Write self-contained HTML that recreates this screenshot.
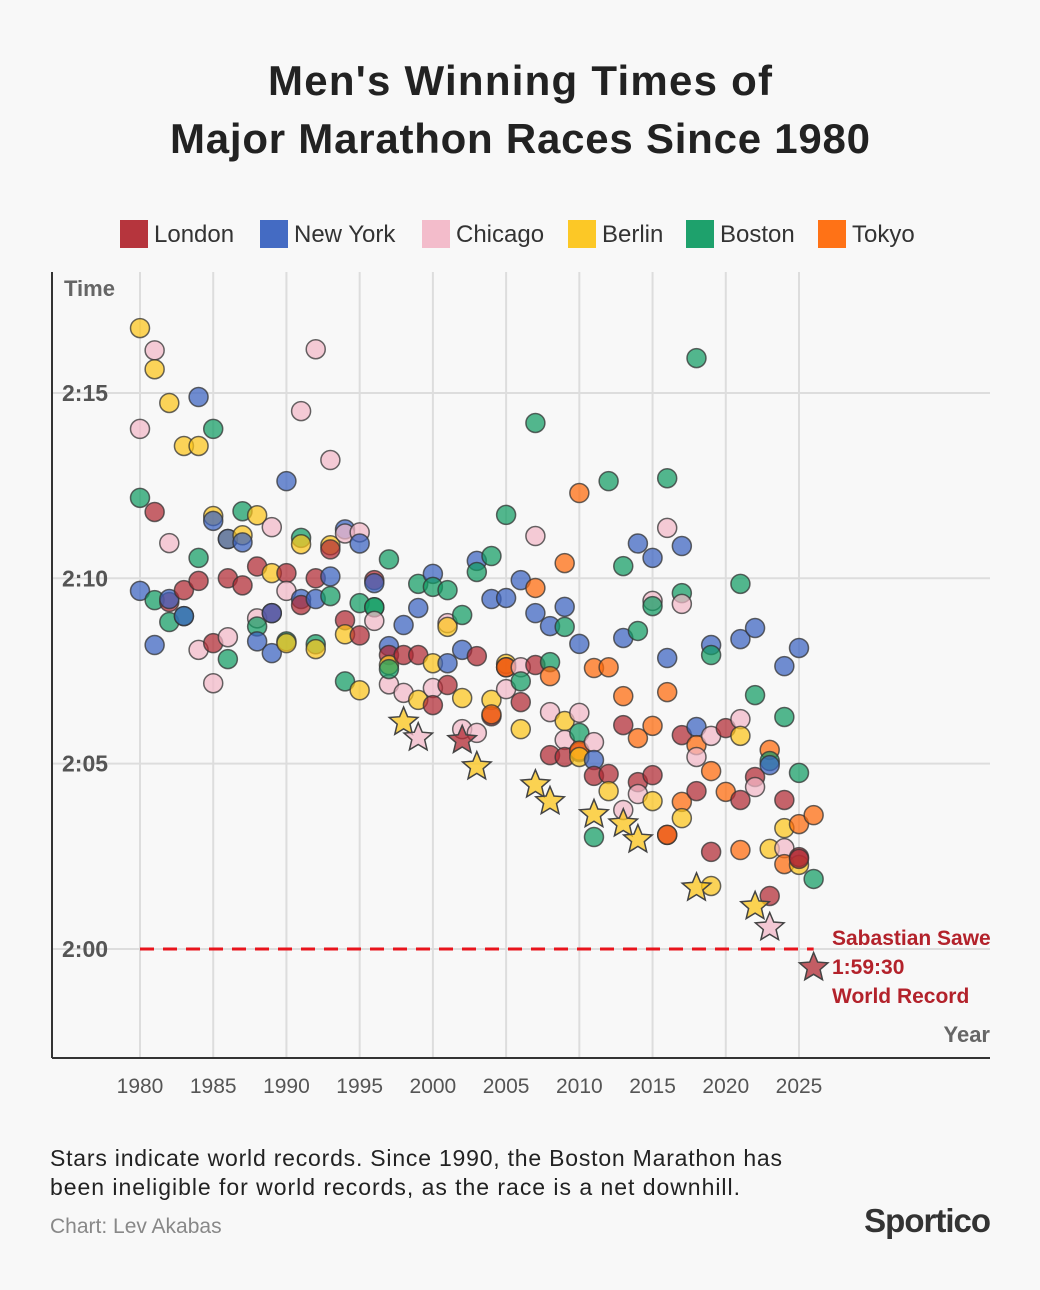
<!DOCTYPE html>
<html><head><meta charset="utf-8"><style>
body{margin:0;background:#f8f8f8;width:1040px;height:1290px;overflow:hidden;font-family:"Liberation Sans",sans-serif}
</style></head><body>
<svg width="1040" height="1290" style="position:absolute;left:0;top:0">
<text x="520" y="95" text-anchor="middle" font-size="42" font-weight="bold" fill="#222" textLength="504">Men's Winning Times of</text>
<text x="520" y="153" text-anchor="middle" font-size="42" font-weight="bold" fill="#222" textLength="700">Major Marathon Races Since 1980</text>
<g id="legend"></g>
<g id="grid"></g>
<line x1="52" y1="272" x2="52" y2="1058" stroke="#333" stroke-width="2"/>
<line x1="52" y1="1058" x2="990" y2="1058" stroke="#333" stroke-width="2"/>
<text x="64" y="296" font-size="22" font-weight="bold" fill="#666">Time</text>
<text x="990" y="1042" text-anchor="end" font-size="22" font-weight="bold" fill="#666">Year</text>
<line id="wr" y1="949" y2="949" stroke="#e8141c" stroke-width="3" stroke-dasharray="14,9"/>
<g id="marks"></g>
<g font-size="21" font-weight="bold" fill="#b3222b">
<text x="832" y="945">Sabastian Sawe</text><text x="832" y="974">1:59:30</text><text x="832" y="1003">World Record</text></g>
<text x="50" y="1166" font-size="23" fill="#222" textLength="732">Stars indicate world records. Since 1990, the Boston Marathon has</text>
<text x="50" y="1195" font-size="23" fill="#222" textLength="690">been ineligible for world records, as the race is a net downhill.</text>
<text x="50" y="1233" font-size="21" fill="#888">Chart: Lev Akabas</text>
<text x="990" y="1232" text-anchor="end" font-size="33" font-weight="bold" fill="#333" letter-spacing="-1">Sportico</text>
</svg>
<script>
const races=["London","New York","Chicago","Berlin","Boston","Tokyo"];
const colors=["#b22a33","#3a63c0","#f2b8c8","#fcc51a","#129c64","#ff6a0a"];
const yTicks=[0,5,10,15];
const yTickLabels=["2:00","2:05","2:10","2:15"];
const xTicks=[1980,1985,1990,1995,2000,2005,2010,2015,2020,2025];
// points: [year, minutes over 2h, race index]
const pts=[
[1980,16.75,3],[1980,14.03,2],[1980,12.17,4],[1980,9.66,1],
[1981,16.15,2],[1981,15.64,3],[1981,11.79,0],[1981,8.2,1],[1981,9.41,4],
[1982,14.73,3],[1982,10.95,2],[1982,9.36,0],[1982,9.44,1],[1982,8.82,4],
[1983,13.57,3],[1983,9.68,0],[1983,8.98,4],[1983,8.98,1],
[1984,14.89,1],[1984,13.57,3],[1984,10.55,4],[1984,9.93,0],[1984,8.07,2],
[1985,14.03,4],[1985,11.68,3],[1985,11.55,1],[1985,8.25,0],[1985,7.17,2],
[1986,11.06,3],[1986,11.06,1],[1986,10.0,0],[1986,8.41,2],[1986,7.82,4],
[1987,11.81,4],[1987,11.16,3],[1987,10.97,1],[1987,9.81,0],
[1988,11.7,3],[1988,10.32,0],[1988,8.92,2],[1988,8.7,4],[1988,8.3,1],
[1989,11.38,2],[1989,10.14,3],[1989,9.06,0],[1989,9.06,1],[1989,7.98,1],
[1990,12.62,1],[1990,10.14,0],[1990,9.66,2],[1990,8.3,4],[1990,8.25,3],
[1991,14.51,2],[1991,11.09,4],[1991,10.92,3],[1991,9.44,1],[1991,9.28,0],
[1992,16.18,2],[1992,10.0,0],[1992,9.44,1],[1992,8.22,4],[1992,8.09,3],
[1993,13.19,2],[1993,10.89,3],[1993,10.78,0],[1993,10.05,1],[1993,9.52,4],
[1994,11.32,1],[1994,11.21,2],[1994,8.87,0],[1994,8.49,3],[1994,7.22,4],
[1995,11.24,2],[1995,10.94,1],[1995,9.33,4],[1995,8.46,0],[1995,6.98,3],
[1996,9.95,0],[1996,9.87,1],[1996,9.22,4],[1996,9.22,4],[1996,8.85,2],
[1997,10.51,4],[1997,8.17,1],[1997,7.93,0],[1997,7.66,3],[1997,7.14,2],[1997,7.55,4],
[1998,8.74,1],[1998,7.93,0],[1998,6.91,2],
[1999,9.85,4],[1999,9.2,1],[1999,7.93,0],[1999,6.72,3],
[2000,10.12,1],[2000,9.77,4],[2000,7.71,3],[2000,7.04,2],[2000,6.58,0],
[2001,9.68,4],[2001,8.79,2],[2001,8.69,3],[2001,7.71,1],[2001,7.12,0],
[2002,9.01,4],[2002,8.07,1],[2002,5.93,2],[2002,6.77,3],
[2003,10.47,1],[2003,10.17,4],[2003,7.9,0],[2003,5.83,2],
[2004,10.6,4],[2004,9.44,1],[2004,6.72,3],[2004,6.28,0],[2004,6.33,5],
[2005,11.71,4],[2005,9.47,1],[2005,7.69,3],[2005,7.6,0],[2005,7.6,5],[2005,7.01,2],
[2006,9.95,1],[2006,7.6,2],[2006,7.22,4],[2006,6.66,0],[2006,5.93,3],
[2007,14.19,4],[2007,11.14,2],[2007,9.74,5],[2007,9.06,1],[2007,7.66,0],
[2008,8.71,1],[2008,7.74,4],[2008,7.36,5],[2008,6.39,2],[2008,5.23,0],
[2009,10.41,5],[2009,9.23,1],[2009,8.69,4],[2009,6.15,3],[2009,5.64,2],[2009,5.18,0],
[2010,12.3,5],[2010,8.23,1],[2010,6.37,2],[2010,5.83,4],[2010,5.31,0],[2010,5.35,5],[2010,5.18,3],
[2011,7.58,5],[2011,5.58,2],[2011,5.1,1],[2011,4.67,0],[2011,3.02,4],
[2012,12.62,4],[2012,7.6,5],[2012,4.72,0],[2012,4.26,3],
[2013,10.33,4],[2013,8.39,1],[2013,6.82,5],[2013,6.04,0],[2013,3.75,2],
[2014,10.94,1],[2014,8.58,4],[2014,5.69,5],[2014,4.5,0],[2014,4.18,2],
[2015,10.55,1],[2015,9.39,2],[2015,9.25,4],[2015,6.02,5],[2015,4.69,0],[2015,3.99,3],
[2016,12.7,4],[2016,11.36,2],[2016,7.85,1],[2016,6.93,5],[2016,3.08,0],[2016,3.08,5],
[2017,10.87,1],[2017,9.6,4],[2017,9.31,2],[2017,5.77,0],[2017,3.97,5],[2017,3.53,3],
[2018,15.94,4],[2018,5.99,1],[2018,5.5,5],[2018,5.18,2],[2018,4.26,0],
[2019,8.2,1],[2019,7.93,4],[2019,5.75,2],[2019,4.8,5],[2019,2.62,0],[2019,1.7,3],
[2020,5.96,0],[2020,4.24,5],
[2021,9.85,4],[2021,8.36,1],[2021,6.2,2],[2021,5.75,3],[2021,4.02,0],[2021,2.67,5],
[2022,8.66,1],[2022,6.85,4],[2022,4.64,0],[2022,4.37,2],
[2023,5.37,5],[2023,5.07,4],[2023,4.96,1],[2023,2.7,3],[2023,1.43,0],
[2024,7.63,1],[2024,6.26,4],[2024,4.02,0],[2024,3.26,3],[2024,2.72,2],[2024,2.29,5],
[2025,8.12,1],[2025,4.75,4],[2025,3.37,5],[2025,2.27,3],[2025,2.48,0],[2025,2.43,0],
[2026,3.61,5],[2026,1.89,4]
];
// world records: [year, minutes over 2h, race index]
const records=[
[1998,6.12,3],[1999,5.70,2],[2002,5.63,0],[2003,4.92,3],[2007,4.43,3],[2008,3.98,3],
[2011,3.63,3],[2013,3.38,3],[2014,2.95,3],[2018,1.65,3],[2022,1.15,3],[2023,0.58,2],[2026,-0.5,0]
];
const NS="http://www.w3.org/2000/svg";
const xs=y=>140+(y-1980)*(659/45);
const ys=m=>949-m*37.07;
function mk(tag,attrs,parent){const e=document.createElementNS(NS,tag);for(const k in attrs)e.setAttribute(k,attrs[k]);parent.appendChild(e);return e;}
const grid=document.getElementById('grid');
yTicks.forEach((t,i)=>{
 const l=mk('line',{x1:52,x2:990,y1:ys(t),y2:ys(t),stroke:'#ddd','stroke-width':2},grid);
 
 
 const tx=mk('text',{x:62,y:ys(t)+8,'font-size':23,'font-weight':'bold',fill:'#555'},grid);
 tx.textContent=yTickLabels[i];
 
 
});
xTicks.forEach(t=>{
 const l=mk('line',{x1:xs(t),x2:xs(t),y1:272,y2:1058,stroke:'#ddd','stroke-width':2},grid);
 
 
 const tx=mk('text',{x:xs(t),y:1093,'text-anchor':'middle','font-size':21,fill:'#555'},grid);
 tx.textContent=t;
 
 
});
const wr=document.getElementById('wr');wr.setAttribute('x1',xs(1980));wr.setAttribute('x2',xs(2026));
const lg=document.getElementById('legend');
const lx=[120,260,422,568,686,818];
races.forEach((r,i)=>{
 const s=mk('rect',{x:lx[i],y:220,width:28,height:28,fill:colors[i],'fill-opacity':0.95},lg);
 
 
 const t=mk('text',{x:lx[i]+34,y:242,'font-size':24,fill:'#333'},lg);
 t.textContent=r;
 
 
});
const g=document.getElementById('marks');
pts.forEach(p=>{
 const c=mk('circle',{cx:xs(p[0]),cy:ys(p[1]),r:9.5,fill:colors[p[2]],'fill-opacity':0.72,stroke:'#333','stroke-opacity':0.75,'stroke-width':1.5},g);
 
 
});
function star(cx,cy,R){const r=R*0.45;let d='';for(let i=0;i<10;i++){const a=-Math.PI/2+i*Math.PI/5;const rr=i%2?r:R;d+=(i?'L':'M')+(cx+rr*Math.cos(a)).toFixed(1)+','+(cy+rr*Math.sin(a)).toFixed(1);}return d+'Z';}
records.forEach(p=>{
 const s=mk('path',{d:star(xs(p[0]),ys(p[1]),15),fill:colors[p[2]],'fill-opacity':0.75,stroke:'#444','stroke-width':1.5},g);
 
 
});
</script>
</body></html>
